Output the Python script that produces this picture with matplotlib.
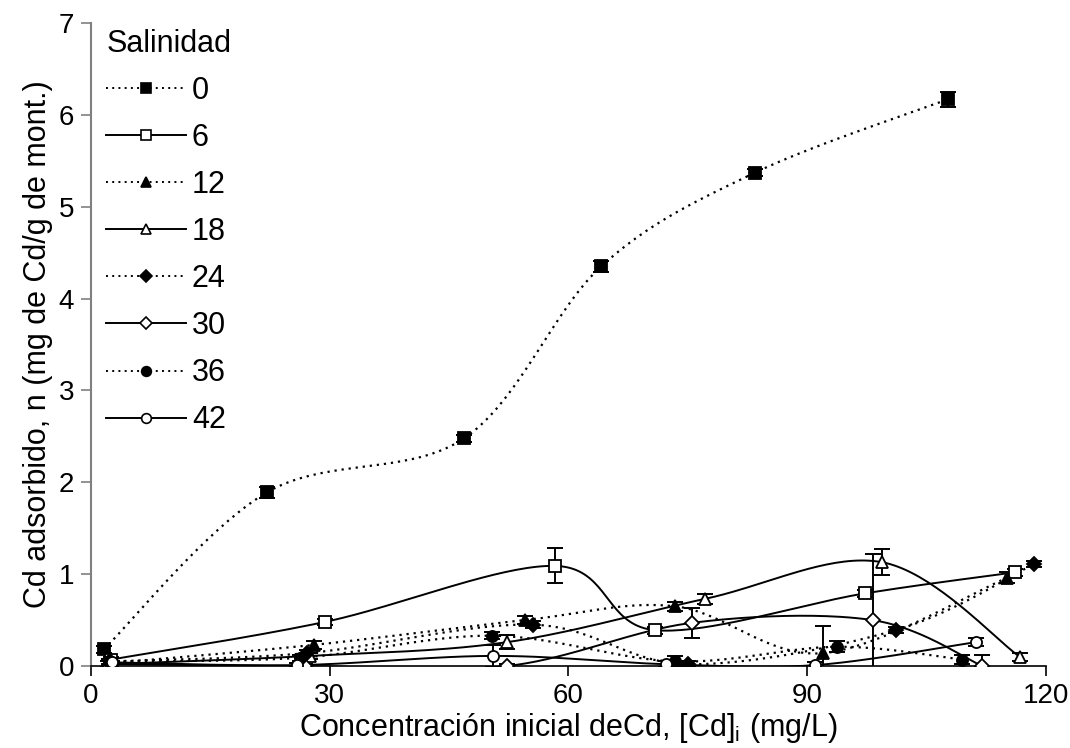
import numpy as np
import matplotlib
matplotlib.use("Agg")
import matplotlib.pyplot as plt
from matplotlib.lines import Line2D

plt.rcParams['font.family'] = ['Liberation Sans', 'DejaVu Sans']

# Isotermas de adsorcion de Cd a distintas salinidades
salinidad = ['0', '6', '12', '18', '24', '30', '36', '42']

x_0 = [1.6, 22.1, 46.9, 64.1, 83.4, 107.7]
y_0 = [0.18, 1.89, 2.48, 4.35, 5.37, 6.17]
e_0 = [0.04, 0.06, 0.04, 0.06, 0.04, 0.08]

x_6 = [2.5, 29.4, 58.3, 70.9, 97.2, 116.1]
y_6 = [0.07, 0.48, 1.09, 0.39, 0.79, 1.02]
e_6 = [0.03, 0.03, 0.19, 0.04, 0.04, 0.04]

x_12 = [2.3, 28.0, 54.5, 73.4, 92.0, 115.1]
y_12 = [0.03, 0.23, 0.50, 0.65, 0.14, 0.96]
e_12 = [0.03, 0.04, 0.04, 0.05, 0.30, 0.06]

x_18 = [2.2, 27.5, 52.3, 77.1, 99.4, 116.7]
y_18 = [0.02, 0.11, 0.26, 0.73, 1.13, 0.10]
e_18 = [0.03, 0.03, 0.08, 0.05, 0.14, 0.04]

x_24 = [2.4, 27.1, 55.5, 75.0, 101.1, 118.5]
y_24 = [0.05, 0.14, 0.45, 0.02, 0.39, 1.11]
e_24 = [0.03, 0.03, 0.04, 0.03, 0.03, 0.03]

x_30 = [2.5, 26.9, 52.3, 75.5, 98.2, 112.0]
y_30 = [0.02, 0.00, 0.00, 0.47, 0.50, 0.00]
e_30 = [0.02, 0.02, 0.02, 0.16, 0.72, 0.12]

x_36 = [2.3, 26.3, 50.4, 73.4, 93.7, 109.5]
y_36 = [0.05, 0.09, 0.33, 0.05, 0.21, 0.07]
e_36 = [0.03, 0.03, 0.04, 0.06, 0.06, 0.05]

x_42 = [2.6, 25.9, 50.5, 72.2, 91.0, 111.2]
y_42 = [0.04, 0.01, 0.11, 0.02, 0.01, 0.26]
e_42 = [0.02, 0.02, 0.12, 0.03, 0.03, 0.04]

series = [
    (x_0, y_0, e_0, 's', 'black', ':'),
    (x_6, y_6, e_6, 's', 'white', '-'),
    (x_12, y_12, e_12, '^', 'black', ':'),
    (x_18, y_18, e_18, '^', 'white', '-'),
    (x_24, y_24, e_24, 'D', 'black', ':'),
    (x_30, y_30, e_30, 'D', 'white', '-'),
    (x_36, y_36, e_36, 'o', 'black', ':'),
    (x_42, y_42, e_42, 'o', 'white', '-'),
]


# curva suavizada tipo Excel (Bezier con puntos de control a 1/6)
def smooth(xs, ys, n=40):
    p = np.column_stack([xs, ys]).astype(float)
    out = []
    for i in range(len(p) - 1):
        p0 = p[max(i - 1, 0)]
        p1 = p[i]
        p2 = p[i + 1]
        p3 = p[min(i + 2, len(p) - 1)]
        c1 = p1 + (p2 - p0) / 6
        c2 = p2 - (p3 - p1) / 6
        t = np.linspace(0, 1, n)[:, None]
        seg = ((1 - t) ** 3 * p1 + 3 * (1 - t) ** 2 * t * c1
               + 3 * (1 - t) * t ** 2 * c2 + t ** 3 * p2)
        out.append(seg if i == 0 else seg[1:])
    out = np.vstack(out)
    return out[:, 0], out[:, 1]


fig = plt.figure(figsize=(10.7, 7.48), dpi=100)
ax = fig.add_axes([0.085, 0.1096, 0.8926, 0.8596])

handles = []
for xs, ys, es, mk, fc, ls in series:
    sx, sy = smooth(xs, ys)
    if ls == ':':
        ax.plot(sx, sy, color='black', lw=1.6, linestyle=(0, (1, 2.2)), zorder=2)
    else:
        ax.plot(sx, sy, color='black', lw=1.4, linestyle='-', zorder=2)
    ax.errorbar(xs, ys, yerr=es, fmt='none', ecolor='black', elinewidth=1.4,
                capsize=6, capthick=1.4, zorder=3)
    ms = 8 if mk != 'D' else 7
    ax.plot(xs, ys, linestyle='none', marker=mk, markersize=ms,
            markerfacecolor=fc, markeredgecolor='black', markeredgewidth=1.3,
            zorder=4)
    handles.append(Line2D([0], [0], color='black',
                          linestyle=(0, (1, 2.2)) if ls == ':' else '-',
                          lw=1.4, marker=mk, markersize=7 if mk != 'D' else 6,
                          markerfacecolor=fc, markeredgecolor='black',
                          markeredgewidth=1.2))

ax.set_xlim(0, 120)
ax.set_ylim(0, 7)
ax.set_xticks([0, 30, 60, 90, 120])
ax.set_yticks(range(0, 8))

for s in ['top', 'right']:
    ax.spines[s].set_visible(False)
ax.spines['left'].set_color('#808080')
ax.spines['left'].set_linewidth(1.5)
ax.spines['bottom'].set_color('black')
ax.spines['bottom'].set_linewidth(1.2)
ax.tick_params(axis='both', labelsize=20, direction='out', length=7, width=1.2,
               pad=5)
ax.tick_params(axis='y', colors='#808080', labelcolor='black')

ax.set_xlabel(r'Concentración inicial deCd, [Cd]$_\mathregular{i}$ (mg/L)',
              fontsize=22, labelpad=2)
ax.set_ylabel('Cd adsorbido, n (mg de Cd/g de mont.)', fontsize=22, labelpad=4)

leg = ax.legend(handles, salinidad, title='Salinidad', loc='upper left',
                bbox_to_anchor=(-0.003, 1.02), frameon=False, fontsize=22,
                title_fontsize=22, handlelength=2.6, handletextpad=0.2,
                labelspacing=0.56, borderaxespad=0.2)
leg._legend_box.align = 'left'

fig.savefig('out.png', dpi=100)
